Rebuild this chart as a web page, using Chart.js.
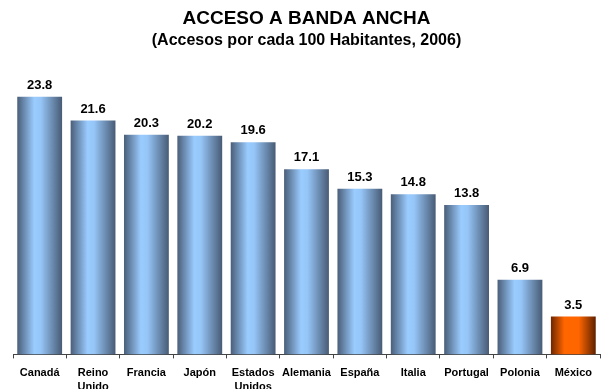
<!DOCTYPE html>
<html>
<head>
<meta charset="utf-8">
<script src="https://cdn.jsdelivr.net/npm/chart.js@4/dist/chart.umd.min.js"></script>
<style>
  html, body { margin: 0; padding: 0; background: #fff; overflow: hidden; }
  #wrap { width: 606px; height: 389px; overflow: hidden; }
</style>
</head>
<body>
<div id="wrap"><canvas id="c" width="606" height="401"></canvas></div>
<script>
// Broadband access per 100 inhabitants, 2006
const countries = ['Canadá', ['Reino', 'Unido'], 'Francia', 'Japón', ['Estados', 'Unidos'],
                   'Alemania', 'España', 'Italia', 'Portugal', 'Polonia', 'México'];
const accesses = [23.8, 21.6, 20.3, 20.2, 19.6, 17.1, 15.3, 14.8, 13.8, 6.9, 3.5];
const highlighted = ['México'];

const FONT = '"Liberation Sans", Arial, sans-serif';

// Cylinder-like horizontal gradient for each bar
function barGradient(ctx) {
  const chart = ctx.chart;
  const area = chart.chartArea;
  const xs = chart.scales.x;
  if (!area || !xs || ctx.dataIndex === undefined) return '#8fb8e8';
  const cx = xs.getPixelForValue(ctx.dataIndex);
  const w = (area.width / countries.length) * 0.84;
  const g = chart.ctx.createLinearGradient(cx - w / 2, 0, cx + w / 2, 0);
  const label = countries[ctx.dataIndex];
  if (highlighted.includes(label)) {
    g.addColorStop(0, '#6e2600');
    g.addColorStop(0.3, '#ff6600');
    g.addColorStop(0.62, '#ff6600');
    g.addColorStop(1, '#5e2000');
  } else {
    g.addColorStop(0, '#4a5e79');
    g.addColorStop(0.38, '#9accff');
    g.addColorStop(0.52, '#96c6f8');
    g.addColorStop(1, '#485b75');
  }
  return g;
}

// Value labels above each bar
const valueLabels = {
  id: 'valueLabels',
  afterDatasetsDraw(chart) {
    const c = chart.ctx;
    const meta = chart.getDatasetMeta(0);
    c.save();
    c.font = 'bold 13px ' + FONT;
    c.fillStyle = '#000';
    c.textAlign = 'center';
    c.textBaseline = 'bottom';
    meta.data.forEach((bar, i) => {
      c.fillText(accesses[i].toFixed(1), bar.x, bar.y - 5);
    });
    c.restore();
  }
};

new Chart(document.getElementById('c'), {
  type: 'bar',
  data: {
    labels: countries,
    datasets: [{
      data: accesses,
      backgroundColor: barGradient,
      borderWidth: 0,
      categoryPercentage: 0.84,
      barPercentage: 1.0
    }]
  },
  options: {
    responsive: false,
    animation: false,
    layout: { padding: { left: 13, right: 6, top: 7, bottom: 0 } },
    plugins: {
      legend: { display: false },
      tooltip: { enabled: false },
      title: {
        display: true,
        text: 'ACCESO A BANDA ANCHA',
        color: '#000',
        font: { family: FONT, size: 19, weight: 'bold', lineHeight: 1.2 },
        padding: { top: 0, bottom: 1 }
      },
      subtitle: {
        display: true,
        text: '(Accesos por cada 100 Habitantes, 2006)',
        color: '#000',
        font: { family: FONT, size: 16, weight: 'bold', lineHeight: 1.2 },
        padding: { top: 0, bottom: 23 }
      }
    },
    scales: {
      y: {
        display: false,
        min: 0,
        max: 26
      },
      x: {
        offset: true,
        grid: {
          display: true,
          offset: true,
          drawOnChartArea: false,
          drawTicks: true,
          tickLength: 4,
          color: '#444'
        },
        border: { display: true, color: '#444', width: 1 },
        ticks: {
          color: '#000',
          padding: 7,
          maxRotation: 0,
          autoSkip: false,
          font: { family: FONT, size: 11, weight: 'bold', lineHeight: 1.3 }
        }
      }
    }
  },
  plugins: [valueLabels]
});
</script>
</body>
</html>
